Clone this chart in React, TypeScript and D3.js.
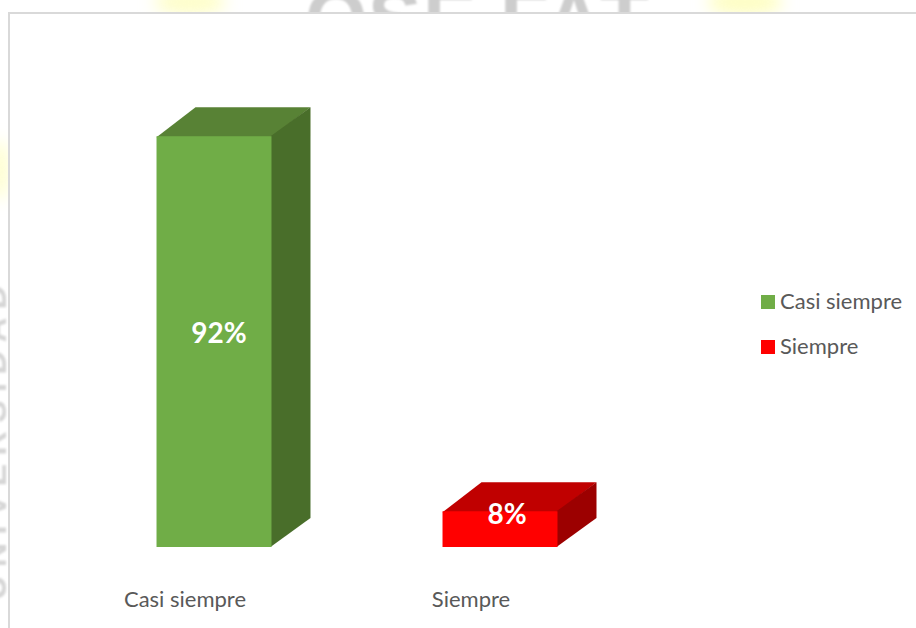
import React from "react";
import * as d3 from "d3";

const categories = ["Casi siempre", "Siempre"];
const percentages = [92, 8];
const labels = ["92%", "8%"];
const labelOffsetsX = [5, 7];
const frontColors = ["#70ad47", "#ff0000"];
const topColors = ["#598235", "#c00000"];
const sideColors = ["#4a6e2b", "#9c0000"];

const W = 916;
const H = 628;
const x = d3.scaleBand<string>().domain(categories).range([71, 643]).paddingInner(0.598).paddingOuter(0.299);
const y = d3.scaleLinear().domain([0, 100]).range([547, 100.5]);
const DX = 39;
const DY = 29;
const FONT = "Lato, 'Open Sans', sans-serif";

export default function App() {
  const line = d3.line();
  return (
    <svg width={W} height={H} viewBox={`0 0 ${W} ${H}`} style={{ position: "absolute", left: 0, top: 0, display: "block", background: "#fff" }}>
      <defs>
        <filter id="soft" x="-20%" y="-20%" width="140%" height="140%"><feGaussianBlur stdDeviation="1.2" /></filter>
        <filter id="glow" x="-50%" y="-100%" width="200%" height="300%"><feGaussianBlur stdDeviation="8" /></filter>
        <filter id="edge"><feGaussianBlur stdDeviation="0.5" /></filter>
        <clipPath id="outsideFrame">
          <path d={`M0 0H${W}V12H8V${H}H0Z`} />
        </clipPath>
      </defs>

      <g clipPath="url(#outsideFrame)">
        <ellipse cx={190} cy={2} rx={36} ry={14} fill="#fefecb" filter="url(#glow)" />
        <ellipse cx={745} cy={2} rx={38} ry={14} fill="#fefec4" filter="url(#glow)" />
        <ellipse cx={0} cy={170} rx={9} ry={30} fill="#fefecb" filter="url(#glow)" />
        <text x="305 368 423 477 500 545 600 645" y={46} fontFamily="'Liberation Sans', sans-serif" fontSize={80} fontWeight={700} fill="#cdcdcd" filter="url(#soft)">OSE FAT.</text>
        <text transform="translate(6,600) rotate(-90)" fontFamily="'Liberation Sans', sans-serif" fontSize={34} fontWeight={700} fill="#d6d6d6" filter="url(#soft)" textLength={315}>UNIVERSIDAD</text>
      </g>

      <path d={`M${W} 13H9V${H}`} fill="none" stroke="#d9d9d9" strokeWidth={2} />

      {categories.map((c, i) => {
        const x0 = x(c)!;
        const x1 = x0 + x.bandwidth();
        const y0 = y(percentages[i]);
        const y1 = y(0);
        return (
          <g key={c} filter="url(#edge)">
            <path d={line([[x0, y0 + 1], [x0 + DX, y0 - DY], [x1 + DX, y0 - DY], [x1, y0 + 1]])! + "Z"} fill={topColors[i]} />
            <path d={line([[x1 - 1, y0], [x1 + DX, y0 - DY], [x1 + DX, y1 - DY], [x1 - 1, y1]])! + "Z"} fill={sideColors[i]} />
            <rect x={x0} y={y0} width={x.bandwidth()} height={y1 - y0} fill={frontColors[i]} />
          </g>
        );
      })}

      {categories.map((c, i) => {
        const cx = x(c)! + x.bandwidth() / 2;
        const labelY = i === 0 ? y(percentages[i] / 2) + 1 : y(percentages[i]) + 13;
        return (
          <text key={c} x={cx + labelOffsetsX[i]} y={labelY} textAnchor="middle" fontFamily={FONT} fontSize={28} fontWeight={700} fill="#fff">{labels[i]}</text>
        );
      })}

      {categories.map((c) => (
        <text key={c} x={x(c)! + x.bandwidth() / 2 - 29} y={607} textAnchor="middle" fontFamily={FONT} fontSize={22} fill="#595959">{c}</text>
      ))}

      {categories.map((c, i) => (
        <g key={c} transform={`translate(761,${295 + i * 45})`}>
          <rect width={14} height={14} fill={frontColors[i]} />
          <text x={19} y={14} fontFamily={FONT} fontSize={22} fill="#595959">{c}</text>
        </g>
      ))}
    </svg>
  );
}
